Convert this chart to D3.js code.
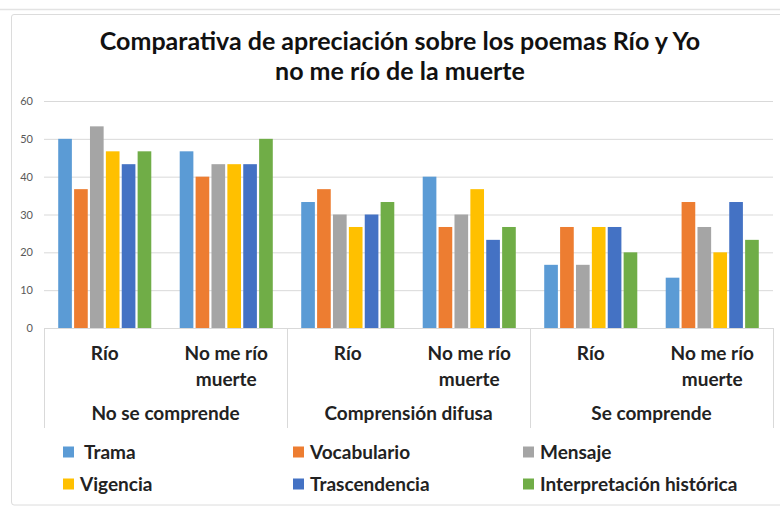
<!DOCTYPE html>
<html>
<head>
<meta charset="utf-8">
<script src="https://cdn.jsdelivr.net/npm/d3@7"></script>
<style>
  html, body { margin: 0; padding: 0; background: #fff; }
  svg { display: block; font-family: Lato, "Open Sans", sans-serif; }
</style>
</head>
<body>
<div class="chart-container"></div>
<script>
//! DATA
const groups = ['No se comprende', 'Comprensión difusa', 'Se comprende']
const poems = [['Río'], ['No me río', 'muerte']]
const seriesNames = ['Trama', 'Vocabulario', 'Mensaje', 'Vigencia', 'Trascendencia', 'Interpretación histórica']
const seriesColors = ['#5b9bd5', '#ed7d31', '#a5a5a5', '#ffc000', '#4472c4', '#70ad47']
const trama = [50, 46.7, 33.3, 40, 16.7, 13.3]
const vocabulario = [36.7, 40, 36.7, 26.7, 26.7, 33.3]
const mensaje = [53.3, 43.3, 30, 30, 16.7, 26.7]
const vigencia = [46.7, 43.3, 26.7, 36.7, 26.7, 20]
const trascendencia = [43.3, 43.3, 30, 23.3, 26.7, 33.3]
const interpretacion = [46.7, 50, 33.3, 26.7, 20, 23.3]
const yTicks = [0, 10, 20, 30, 40, 50, 60]

const seriesValues = [trama, vocabulario, mensaje, vigencia, trascendencia, interpretacion]

//! CONSTS
const width = 780
const height = 506
const plotLeft = 44, plotRight = 773, plotTop = 101, plotBottom = 328

// one row per category slot (group x poem)
const rows = []
groups.forEach((g, gi) => {
  poems.forEach((p, pi) => rows.push({ key: gi + '-' + pi, group: g, lines: p, idx: gi * poems.length + pi }))
})

//! SVG
const svg = d3.select('.chart-container')
  .append('svg')
  .attr('width', width)
  .attr('height', height)

// chart frame
svg.append('line').attr('x1', 0).attr('x2', width).attr('y1', 9.5).attr('y2', 9.5)
  .attr('stroke', '#e3e3e3').attr('stroke-width', 1.5)
svg.append('path')
  .attr('d', `M${width},14.5 H14 Q11.5,14.5 11.5,17 V502 Q11.5,505 14,505 H${width}`)
  .attr('fill', 'none').attr('stroke', '#dcdcdc')

//! SCALES
const x0 = d3.scaleBand()
  .domain(rows.map(r => r.key))
  .range([plotLeft, plotRight])
  .padding(0)

const inset = x0.bandwidth() * 0.117
const x1 = d3.scaleBand()
  .domain(seriesNames)
  .range([inset, x0.bandwidth() - inset])
  .paddingInner(0.14)

const yScale = d3.scaleLinear()
  .domain([0, 60])
  .range([plotBottom, plotTop])

//! TITLE
const title = svg.append('text')
  .attr('x', 400)
  .attr('text-anchor', 'middle')
  .attr('font-weight', 700)
  .attr('font-size', 25)
  .attr('fill', '#111')
title.append('tspan').attr('x', 400).attr('y', 50).text('Comparativa de apreciación sobre los poemas Río y Yo')
title.append('tspan').attr('x', 400).attr('y', 80).text('no me río de la muerte')

//! GRID + Y AXIS
const yAxis = d3.axisLeft(yScale)
  .tickValues(yTicks)
  .tickSize(-(plotRight - plotLeft))
  .tickPadding(11)

svg.append('g')
  .attr('transform', `translate(${plotLeft},0)`)
  .call(yAxis)
  .call(g => g.select('.domain').remove())
  .call(g => g.selectAll('.tick line').attr('stroke', '#d9d9d9'))
  .call(g => g.selectAll('.tick text')
    .attr('fill', '#595959')
    .attr('font-size', 11)
    .attr('font-family', 'Lato, sans-serif'))

//! BARS
const catG = svg.append('g')
  .selectAll('g')
  .data(rows)
  .join('g')
  .attr('transform', d => `translate(${x0(d.key)},0)`)

catG.selectAll('rect')
  .data(d => seriesNames.map((s, si) => ({ s, si, v: seriesValues[si][d.idx] })))
  .join('rect')
  .attr('x', d => x1(d.s))
  .attr('y', d => yScale(d.v))
  .attr('width', x1.bandwidth())
  .attr('height', d => yScale(0) - yScale(d.v))
  .attr('fill', d => seriesColors[d.si])

//! CATEGORY AXIS (multi-level)
const axisBottom = 428
const axisG = svg.append('g').attr('stroke', '#d9d9d9').attr('fill', 'none')
axisG.append('line').attr('x1', plotLeft).attr('x2', plotRight).attr('y1', plotBottom + 0.5).attr('y2', plotBottom + 0.5)
const sepXs = [plotLeft].concat(groups.map((g, gi) => x0(rows[(gi + 1) * poems.length - 1].key) + x0.bandwidth()))
sepXs.forEach(sx => {
  axisG.append('line')
    .attr('x1', Math.round(sx) + 0.5).attr('x2', Math.round(sx) + 0.5)
    .attr('y1', plotBottom).attr('y2', axisBottom)
})

const labelG = svg.append('g')
  .attr('font-size', 19)
  .attr('font-weight', 700)
  .attr('fill', '#222')
  .attr('text-anchor', 'middle')

rows.forEach(r => {
  const cx = x0(r.key) + x0.bandwidth() / 2
  const t = labelG.append('text')
  r.lines.forEach((ln, li) => {
    t.append('tspan').attr('x', cx).attr('y', 360 + li * 26).text(ln)
  })
})

groups.forEach((g, gi) => {
  const x = (x0(rows[gi * poems.length].key) + x0(rows[(gi + 1) * poems.length - 1].key) + x0.bandwidth()) / 2
  labelG.append('text').attr('x', x).attr('y', 420).text(g)
})

//! LEGEND
const legendCols = [63, 293, 523]
const legendRows = [452, 484]
const legend = svg.append('g')
  .selectAll('g')
  .data(seriesNames)
  .join('g')
  .attr('transform', (d, i) => `translate(${legendCols[i % 3]},${legendRows[Math.floor(i / 3)]})`)

legend.append('rect')
  .attr('x', 0).attr('y', -5.5)
  .attr('width', 11).attr('height', 11)
  .attr('fill', (d, i) => seriesColors[i])

legend.append('text')
  .attr('x', (d, i) => i === 0 ? 21 : 17)
  .attr('y', 6.5)
  .attr('font-size', 19)
  .attr('font-weight', 700)
  .attr('fill', '#222')
  .text(d => d)
</script>
</body>
</html>
